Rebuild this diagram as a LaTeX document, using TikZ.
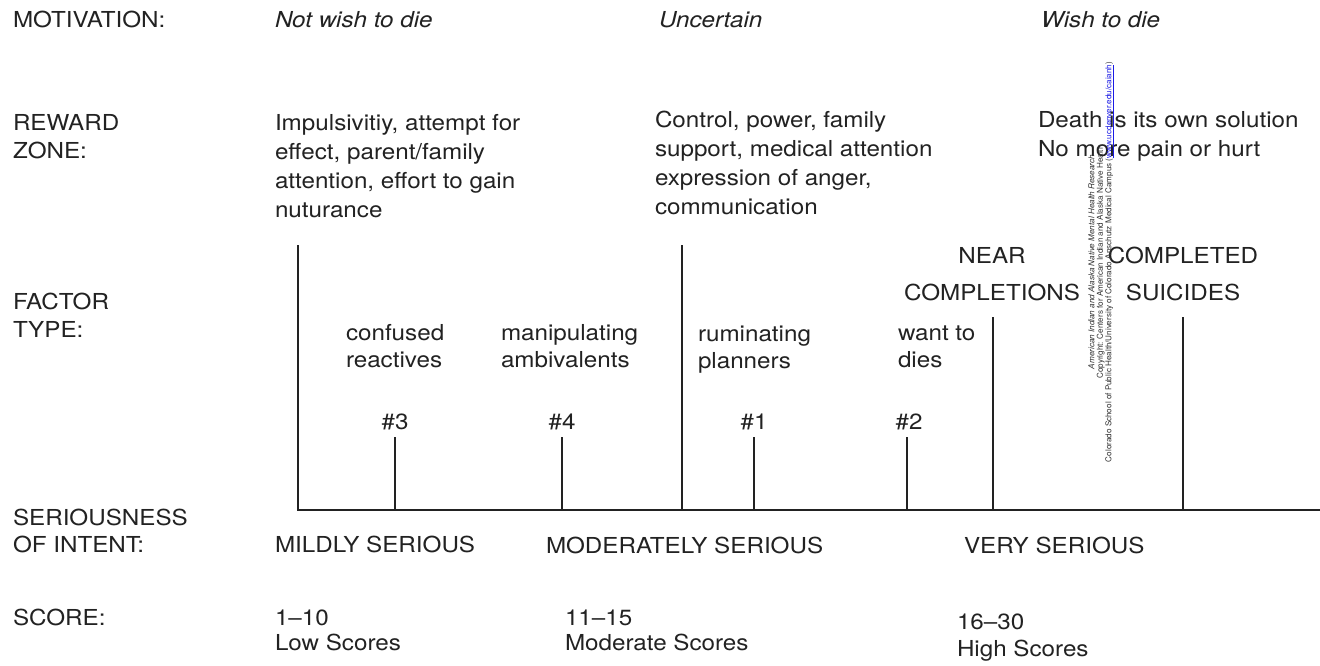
\documentclass[tikz,border=0pt]{standalone}
\usepackage{fontspec}
\setmainfont{TeX Gyre Heros}[FakeStretch=1.1]
\newfontfamily\wmfont{TeX Gyre Heros}
\begin{document}
\begin{tikzpicture}[x=1pt,y=-1pt,
  lbl/.style={anchor=base west, inner sep=0pt, outer sep=0pt, text=ink, align=left,
    font=\fontsize{22}{28}\selectfont},
  ctr/.style={anchor=base, inner sep=0pt, outer sep=0pt, text=ink, align=center,
    font=\fontsize{22}{28}\selectfont},
  axis/.style={draw=ink, line width=1.6pt},
  tick/.style={draw=ink, line width=1.5pt}
]
\definecolor{ink}{HTML}{222222}
\definecolor{wm}{HTML}{333333}
\definecolor{linkblue}{HTML}{1A1AE6}
\useasboundingbox (0,0) rectangle (1320,665);
\fill[white] (0,0) rectangle (1320,665);

% row labels (base = last line baseline)
\node[lbl] (mot) at (13,27) {MOTIVATION:};
\node[lbl, font=\fontsize{22}{28}\selectfont] (rew) at (13,158) {REWARD\\ZONE:};
\node[lbl, font=\fontsize{22}{28}\selectfont] (fac) at (13,337) {FACTOR\\TYPE:};
\node[lbl, font=\fontsize{22}{27}\selectfont] (ser) at (13,552) {SERIOUSNESS\\OF INTENT:};
\node[lbl] (sco) at (13,625) {SCORE:};

% motivation
\node[lbl, font=\fontsize{22}{28}\selectfont\itshape] (m1) at (275,27) {Not wish to die};
\node[lbl, font=\fontsize{22}{28}\selectfont\itshape] (m2) at (659,27) {Uncertain};
\node[lbl, font=\fontsize{22}{28}\selectfont\itshape] (m3) at (1041,27) {Wish to die};

% reward zone
\node[lbl, font=\fontsize{22}{29}\selectfont] (r1) at (275,217)
  {Impulsivitiy, attempt for\\effect, parent/family\\attention, effort to gain\\nuturance};
\node[lbl, font=\fontsize{22}{29}\selectfont] (r2) at (655,214)
  {Control, power, family\\support, medical attention\\expression of anger,\\communication};
\node[lbl, font=\fontsize{22}{29}\selectfont] (r3) at (1038,156)
  {Death is its own solution\\No more pain or hurt};

% axis
\coordinate (a0) at (298,245);
\coordinate (b0) at (298,510);
\coordinate (mid0) at (682,245);
\coordinate (mid1) at (682,510);
\coordinate (nc0) at (993,317);
\coordinate (nc1) at (993,510);
\coordinate (cs0) at (1183,317);
\coordinate (cs1) at (1183,510);
\coordinate (end) at (1320,510);
\coordinate (t3a) at (395,437);
\coordinate (t3b) at (395,510);
\coordinate (t4a) at (562,437);
\coordinate (t4b) at (562,510);
\coordinate (t1a) at (754,437);
\coordinate (t1b) at (754,510);
\coordinate (t2a) at (907,437);
\coordinate (t2b) at (907,510);

\draw[axis] (a0) -- (b0) -- (end);
\draw[axis] (mid0) -- (mid1);
\draw[axis] (nc0) -- (nc1);
\draw[axis] (cs0) -- (cs1);
\draw[tick] (t3a) -- (t3b);
\draw[tick] (t4a) -- (t4b);
\draw[tick] (t1a) -- (t1b);
\draw[tick] (t2a) -- (t2b);

% factor types
\node[lbl, font=\fontsize{22}{27}\selectfont] (f3) at (346,367) {confused\\reactives};
\node[lbl, font=\fontsize{22}{27}\selectfont] (f4) at (501,367) {manipulating\\ambivalents};
\node[lbl, font=\fontsize{22}{27}\selectfont] (f1) at (698,368) {ruminating\\planners};
\node[lbl, font=\fontsize{22}{27}\selectfont] (f2) at (898,367) {want to\\dies};

\node[ctr] (n3) at (395,429) {\#3};
\node[ctr] (n4) at (562,429) {\#4};
\node[ctr] (n1) at (754,429) {\#1};
\node[ctr] (n2) at (909,429) {\#2};

\node[ctr, font=\fontsize{22}{37}\selectfont] (near) at (992,300) {NEAR\\COMPLETIONS};
\node[ctr, font=\fontsize{22}{37}\selectfont] (comp) at (1183,300) {COMPLETED\\SUICIDES};

% seriousness
\node[lbl] (s1) at (275,552) {MILDLY SERIOUS};
\node[lbl] (s2) at (546,553) {MODERATELY SERIOUS};
\node[lbl] (s3) at (964,553) {VERY SERIOUS};

% scores
\node[lbl, font=\fontsize{22}{25}\selectfont] (c1) at (275,650) {1--10\\Low Scores};
\node[lbl, font=\fontsize{22}{25}\selectfont] (c2) at (565,650) {11--15\\Moderate Scores};
\node[lbl, font=\fontsize{22}{27}\selectfont] (c3) at (957,656) {16--30\\High Scores};

% watermark
\node[rotate=90, inner sep=0pt, text=wm, align=center, font=\wmfont\fontsize{8.1}{8.6}\selectfont] (wmk) at (1101,262)
  {{\itshape American Indian and Alaska Native Mental Health Research}\\
   Copyright: Centers for American Indian and Alaska Native Health\\
   Colorado School of Public Health/University of Colorado Anschutz Medical Campus (\textcolor{linkblue}{\underline{www.ucdenver.edu/caianh}})};
\end{tikzpicture}
\end{document}
